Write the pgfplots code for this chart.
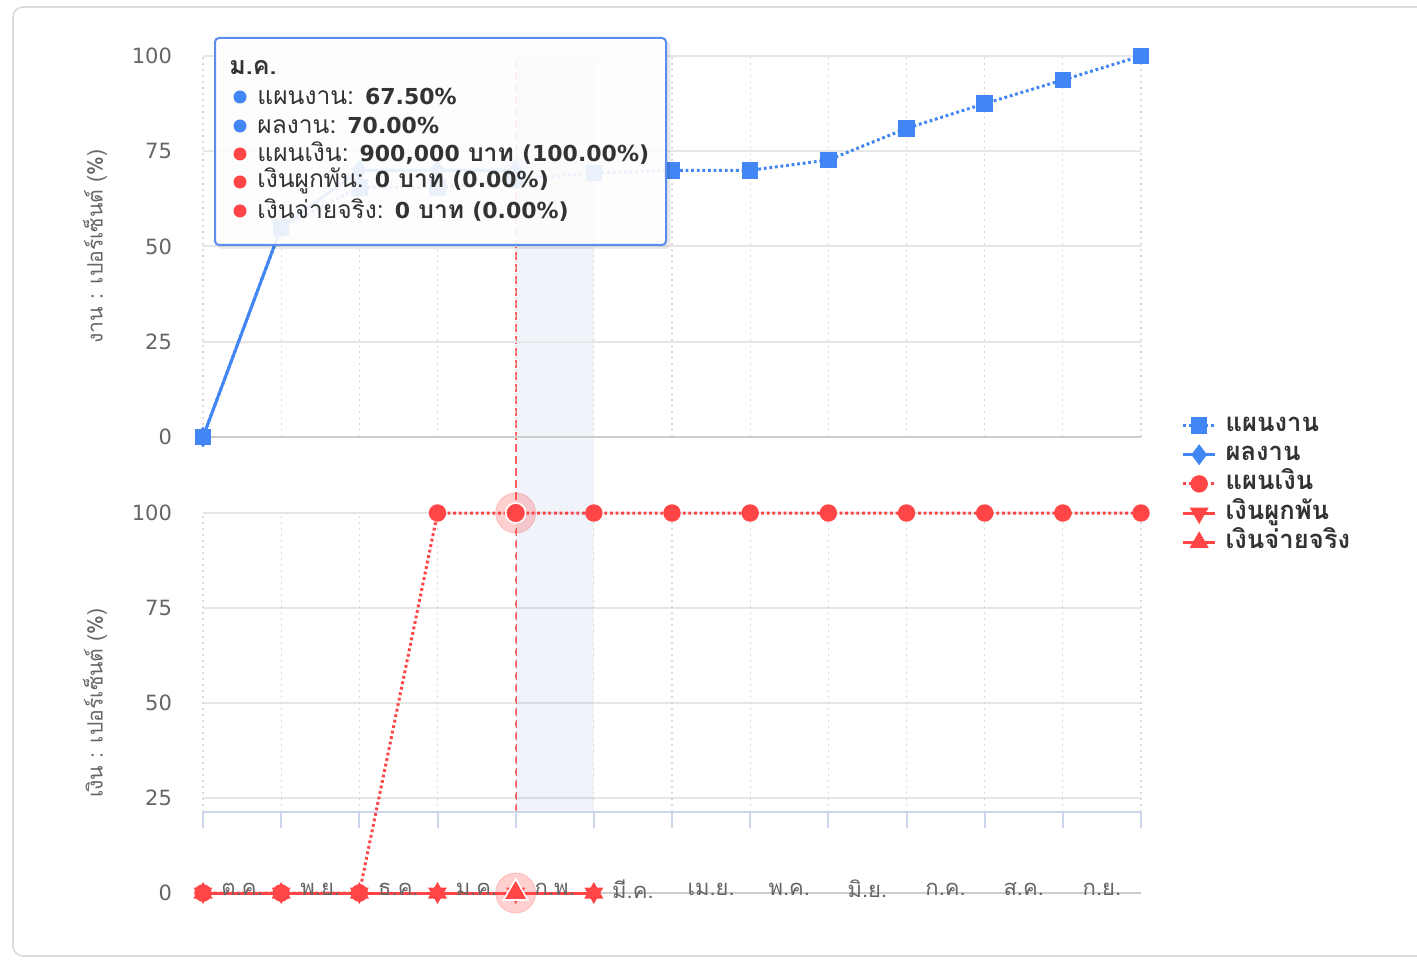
\documentclass[border=0pt]{standalone}
\usepackage{pgfplots}
\pgfplotsset{compat=1.18}
\usepackage{pgfplotstable}
\usepackage{fontspec}
\setmainfont[Script=Thai]{Loma}
\newfontfamily\numfont{DejaVu Sans}

\definecolor{planblue}{HTML}{4285F4}
\definecolor{moneyred}{HTML}{FF4545}
\definecolor{gridgray}{HTML}{E6E6E6}
\definecolor{dotgray}{HTML}{DADADA}
\definecolor{zerogray}{HTML}{CCCCCC}
\definecolor{labelgray}{HTML}{666666}
\definecolor{axisblue}{HTML}{CCD6EB}
\definecolor{bandblue}{HTML}{4A6FB8}
\definecolor{tipborder}{HTML}{5B8DEF}
\definecolor{tiptext}{HTML}{333333}

% cumulative work progress (%), point i = end of month i
\pgfplotstableread{
idx plan
0   0
1   55
2   65.5
3   65.5
4   67.5
5   69.3
6   70
7   70
8   72.7
9   81
10  87.5
11  93.7
12  100
}\workplan
\pgfplotstableread{
idx done
0   0
1   55
2   70
3   70
4   70
}\workdone
% budget (%)
\pgfplotstableread{
idx plan
0   0
1   0
2   0
3   100
4   100
5   100
6   100
7   100
8   100
9   100
10  100
11  100
12  100
}\moneyplan
\pgfplotstableread{
idx val
0   0
1   0
2   0
3   0
4   0
5   0
}\moneycommit
\pgfplotstableread{
idx val
0   0
1   0
2   0
3   0
4   0
5   0
}\moneypaid

\tikzset{
  monthlabel/.style={anchor=center, yshift=2pt, inner sep=0pt,
    font=\fontsize{11}{12}\selectfont, text=labelgray},
  dotline/.style={line width=1.5pt, dash pattern=on 1.4pt off 1.4pt},
}
\pgfplotsset{
  panel/.style={
    scale only axis, width=469pt,
    xmin=0, xmax=12, ymin=0, ymax=100,
    clip=false,
    axis line style={draw=none},
    tick style={draw=none},
    ytick={0,25,50,75,100},
    ymajorgrids,
    y grid style={gridgray, line width=1pt},
    /pgf/number format/assume math mode=true,
    tick label style={font=\fontsize{11}{12}\selectfont, color=labelgray},
    yticklabel style={xshift=-12pt, font=\numfont\fontsize{10.5}{12}\selectfont},
    ylabel style={at={(axis description cs:-0.115,0.5)}, anchor=center,
      font=\fontsize{10.6}{12}\selectfont, color=labelgray},
  },
}

\begin{document}
\begin{tikzpicture}

% background card
\begin{scope}[x=0.5pt, y=-0.5pt, yshift=479.5pt]
  \draw[black!14, line width=0.8pt, rounded corners=5pt, fill=white] (13,7) rectangle (1450,956);
\end{scope}

% ---------------- budget panel ----------------
\begin{axis}[panel, at={(101.5pt,33pt)}, anchor=south west, height=190pt,
  ylabel={เงิน : เปอร์เซ็นต์ (\%)},
  xtick=\empty,
]
  % hovered month band and crosshair
  \fill[bandblue, fill opacity=0.08] (axis cs:4,21.3) rectangle (axis cs:5,220.3);
  \draw[moneyred, opacity=0.85, line width=1pt, dash pattern=on 4pt off 2pt]
    (axis cs:4,21.3) -- (axis cs:4,220.3);
  % vertical dotted grid
  \pgfplotsinvokeforeach{0,...,12}{
    \draw[dotgray, line width=0.6pt, dash pattern=on 0.8pt off 2.2pt] (axis cs:#1,21.3) -- (axis cs:#1,100);
    \draw[axisblue, line width=1pt] (axis cs:#1,21.3) -- (axis cs:#1,17.1);
  }
  \draw[axisblue, line width=1pt] (axis cs:0,21.3) -- (axis cs:12,21.3);
  \draw[zerogray, line width=1pt] (axis cs:0,0) -- (axis cs:12,0);

  \addplot[moneyred, dotline, mark=*, mark size=3.6pt, mark options={solid}]
    table[x=idx, y=plan] {\moneyplan};
  \addplot[moneyred, line width=1.5pt, mark=triangle*, mark size=4pt, mark options={rotate=180}]
    table[x=idx, y=val] {\moneycommit};
  \addplot[moneyred, line width=1.5pt, mark=triangle*, mark size=4pt]
    table[x=idx, y=val] {\moneypaid};
  % hover state at ม.ค.
  \addplot[only marks, mark=*, mark size=10pt, moneyred, opacity=0.25] coordinates {(4,100)};
  \addplot[only marks, mark=*, mark size=5pt, moneyred, mark options={draw=white, line width=0.8pt}] coordinates {(4,100)};
  \addplot[only marks, mark=*, mark size=10pt, moneyred, opacity=0.25] coordinates {(4,0)};
  \addplot[only marks, mark=triangle*, mark size=7pt, moneyred, mark options={draw=white, line width=0.8pt}] coordinates {(4,0)};

  % month names between the ticks, drawn over the series
  \node[monthlabel] at (axis cs:0.5,0) {ต.ค.};
  \node[monthlabel] at (axis cs:1.5,0) {พ.ย.};
  \node[monthlabel] at (axis cs:2.5,0) {ธ.ค.};
  \node[monthlabel] at (axis cs:3.5,0) {ม.ค.};
  \node[monthlabel] at (axis cs:4.5,0) {ก.พ.};
  \node[monthlabel] at (axis cs:5.5,0) {มี.ค.};
  \node[monthlabel] at (axis cs:6.5,0) {เม.ย.};
  \node[monthlabel] at (axis cs:7.5,0) {พ.ค.};
  \node[monthlabel] at (axis cs:8.5,0) {มิ.ย.};
  \node[monthlabel] at (axis cs:9.5,0) {ก.ค.};
  \node[monthlabel] at (axis cs:10.5,0) {ส.ค.};
  \node[monthlabel] at (axis cs:11.5,0) {ก.ย.};
\end{axis}

% ---------------- work panel ----------------
\begin{axis}[panel, at={(101.5pt,261pt)}, anchor=south west, height=190.5pt,
  ylabel={งาน : เปอร์เซ็นต์ (\%)},
  xtick={0,...,12}, xticklabels={},
  xmajorgrids,
  x grid style={dotgray, line width=0.6pt, dash pattern=on 0.8pt off 2.2pt},
  legend style={at={(axis description cs:1.043,0.068)}, anchor=north west,
    draw=none, fill=none, font=\bfseries\fontsize{12.8}{14}\selectfont,
    text=tiptext, row sep=0.6pt, column sep=4pt, inner sep=0pt,
    nodes={inner sep=0.5pt, text height=9.5pt, text depth=3.5pt}},
  legend image code/.code={
    \draw[mark repeat=2, mark phase=2, #1] plot coordinates {(0cm,0cm) (0.28cm,0cm) (0.56cm,0cm)};},
  legend cell align=left,
]
  \draw[zerogray, line width=1pt] (axis cs:0,0) -- (axis cs:12,0);
  \addplot[planblue, dotline, mark=square*, mark size=3.4pt, mark options={solid}]
    table[x=idx, y=plan] {\workplan};
  \addlegendentry{แผนงาน}
  \addplot[planblue, line width=1.5pt, mark=diamond*, mark size=4pt]
    table[x=idx, y=done] {\workdone};
  \addlegendentry{ผลงาน}
  \addlegendimage{moneyred, dotline, mark=*, mark size=3.6pt, mark options={solid}}
  \addlegendentry{แผนเงิน}
  \addlegendimage{moneyred, line width=1.5pt, mark=triangle*, mark size=4pt, mark options={rotate=180}}
  \addlegendentry{เงินผูกพัน}
  \addlegendimage{moneyred, line width=1.5pt, mark=triangle*, mark size=4pt}
  \addlegendentry{เงินจ่ายจริง}
  % hover state at ม.ค.
  \addplot[only marks, mark=diamond*, mark size=9pt, planblue, opacity=0.25, forget plot] coordinates {(4,70)};
\end{axis}

% tooltip
\begin{scope}[x=0.5pt, y=-0.5pt, yshift=479.5pt]
  \fill[black, opacity=0.08, rounded corners=2pt] (218,41) rectangle (670,249);
  \draw[tipborder, line width=1pt, fill=white, fill opacity=0.9, rounded corners=2pt] (215,38) rectangle (666,245);
  \node[anchor=west, inner sep=0pt, text=tiptext, font=\bfseries\fontsize{12.5}{14}\selectfont] at (229,68) {ม.ค.};
  \fill[planblue] (240,97) circle (6.5);
  \fill[planblue] (240,126) circle (6.5);
  \fill[moneyred] (240,154) circle (6.5);
  \fill[moneyred] (240,182) circle (6.5);
  \fill[moneyred] (240,211) circle (6.5);
  \begin{scope}[every node/.style={anchor=west, inner sep=0pt, text=tiptext, font=\fontsize{12.3}{14}\selectfont}]
    \node at (257,96) {แผนงาน: \textbf{{\numfont\fontsize{11}{13}\selectfont 67.50\%}}};
    \node at (257,125) {ผลงาน: \textbf{{\numfont\fontsize{11}{13}\selectfont 70.00\%}}};
    \node at (257,153) {แผนเงิน: \textbf{{\numfont\fontsize{11}{13}\selectfont 900,000} บาท {\numfont\fontsize{11}{13}\selectfont (100.00\%)}}};
    \node at (257,181) {เงินผูกพัน: \textbf{{\numfont\fontsize{11}{13}\selectfont 0} บาท {\numfont\fontsize{11}{13}\selectfont (0.00\%)}}};
    \node at (257,210) {เงินจ่ายจริง: \textbf{{\numfont\fontsize{11}{13}\selectfont 0} บาท {\numfont\fontsize{11}{13}\selectfont (0.00\%)}}};
  \end{scope}
\end{scope}

\pgfresetboundingbox
\useasboundingbox (0,0) rectangle (708.5pt,479.5pt);
\end{tikzpicture}
\end{document}
